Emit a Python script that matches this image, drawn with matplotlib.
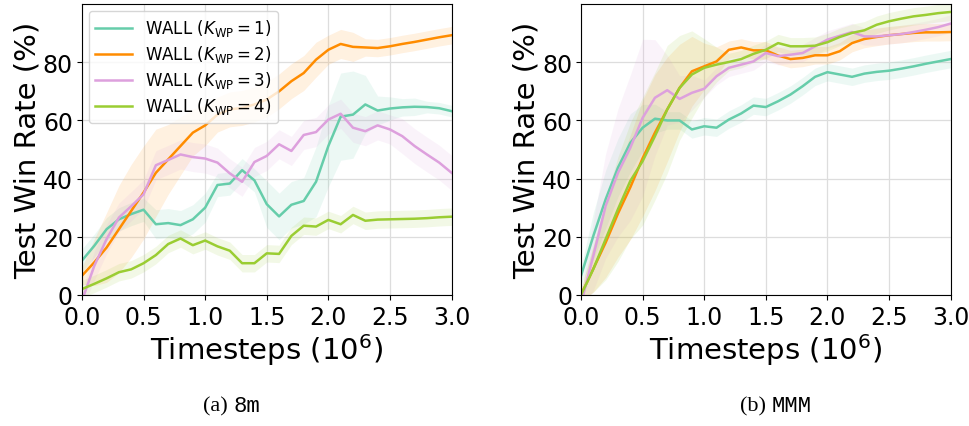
import numpy as np
import matplotlib.pyplot as plt

# -------------------------------
# Data (win rate %, mean and spread)
# -------------------------------
steps = np.round(np.arange(0, 3.01, 0.1), 1)
labels = [r"WALL ($K_{\rm WP}=1$)", r"WALL ($K_{\rm WP}=2$)",
          r"WALL ($K_{\rm WP}=3$)", r"WALL ($K_{\rm WP}=4$)"]
colors = ["mediumaquamarine", "darkorange", "plum", "yellowgreen"]

# (a) 8m
m8_k1 = [11.8, 16.9, 22.6, 26.0, 27.8, 29.3, 24.3, 24.7, 24.0, 26.0, 30.0,
         37.8, 38.3, 42.9, 39.4, 31.2, 27.0, 31.0, 32.3, 38.9, 51.2,
         61.3, 62.0, 65.5, 63.4, 64.1, 64.5, 64.7, 64.6, 64.2, 63.2]
m8_k2 = [6.6, 11.2, 16.3, 22.6, 28.9, 35.2, 42.0, 46.6, 51.2, 55.8, 58.3,
         62.0, 63.8, 64.3, 65.5, 67.2, 70.0, 73.5, 76.3, 80.9, 84.3,
         86.3, 85.3, 85.1, 84.9, 85.5, 86.3, 87.0, 87.8, 88.6, 89.3]
m8_k3 = [-2.0, 10.0, 19.2, 26.6, 30.5, 34.6, 44.6, 46.4, 48.3, 47.4, 46.9,
         45.5, 41.8, 38.9, 45.7, 47.8, 51.8, 49.5, 55.0, 56.0, 60.3,
         62.3, 57.5, 56.3, 58.3, 56.9, 54.6, 51.2, 48.3, 45.5, 42.0]
m8_k4 = [2.0, 3.8, 5.7, 7.8, 8.8, 10.9, 13.7, 17.5, 19.4, 17.1, 18.7,
         16.7, 15.2, 10.9, 10.9, 14.3, 14.1, 20.3, 23.8, 23.5, 25.8,
         24.3, 27.5, 25.5, 25.9, 26.0, 26.1, 26.2, 26.4, 26.7, 26.9]
m8_k1_sd = [4, 4, 4, 4, 4, 4, 5, 5, 5, 5, 5, 4, 4, 4, 4, 8, 8, 8, 8, 12, 14,
            15, 15, 10, 5, 4, 3, 3, 2, 2, 2]
m8_k2_sd = [3, 8, 12, 15, 16, 16, 15, 12, 10, 8, 7, 6, 6, 6, 6, 6, 6, 6, 6, 6,
            5, 5, 5, 3, 3, 3, 3, 3, 3, 3, 3]
m8_k3_sd = [3, 5, 5, 5, 5, 5, 5, 5, 5, 5, 5, 5, 5, 5, 5, 5, 5, 5, 5, 5, 5,
            5, 5, 5, 5, 5, 6, 6, 6, 6, 6]
m8_k4_sd = [3] * 31

# (b) MMM
mmm_k1 = [6.6, 20.3, 32.9, 43.8, 52.3, 57.5, 60.6, 60.0, 60.0, 56.9, 58.0,
          57.5, 60.3, 62.4, 65.1, 64.6, 66.6, 68.9, 71.8, 75.0, 76.6,
          75.8, 75.0, 76.1, 76.7, 77.1, 77.8, 78.6, 79.5, 80.3, 81.1]
mmm_k2 = [0.0, 9.0, 18.0, 28.0, 37.0, 47.0, 55.8, 63.8, 71.2, 76.9, 78.6,
          80.3, 84.3, 85.1, 84.1, 84.1, 82.3, 81.1, 81.5, 82.4, 82.4,
          83.8, 86.6, 88.0, 88.7, 89.3, 89.7, 90.1, 90.3, 90.3, 90.4]
mmm_k3 = [-3.0, 13.5, 30.6, 42.0, 50.6, 60.9, 67.8, 70.4, 67.4, 69.5, 70.9,
          75.2, 78.1, 79.2, 80.3, 83.2, 82.1, 82.6, 83.2, 85.5, 87.8,
          89.1, 90.4, 88.9, 88.9, 89.3, 89.7, 90.4, 91.2, 92.1, 93.3]
mmm_k4 = [0.0, 8.9, 19.2, 29.5, 39.2, 46.0, 54.6, 63.8, 71.2, 75.8, 78.1,
          79.2, 80.1, 81.1, 82.9, 84.3, 86.6, 85.5, 85.5, 85.7, 86.9,
          88.7, 90.1, 91.0, 92.9, 94.1, 95.0, 95.8, 96.3, 96.9, 97.3]
mmm_k1_sd = [3, 8, 10, 10, 10, 8, 5, 3, 3, 3, 3, 3, 3, 3, 3, 3, 3, 3, 3, 3, 3,
             3, 3, 3, 3, 3, 3, 3, 3, 3, 3]
mmm_k2_sd = [2, 8, 12, 15, 18, 20, 20, 18, 15, 12, 8, 5, 3, 3, 3, 3, 3, 3, 3,
             3, 3, 3, 3, 3, 3, 3, 3, 3, 3, 3, 3]
mmm_k3_sd = [3, 12, 18, 22, 25, 27, 20, 12, 8, 6, 3, 3, 3, 3, 3, 3, 3, 3, 3,
             3, 3, 3, 3, 3, 3, 3, 3, 3, 3, 3, 3]
mmm_k4_sd = [2, 8, 14, 18, 20, 22, 22, 22, 18, 15, 10, 6, 3, 3, 3, 3, 3, 3, 3,
             3, 3, 3, 3, 3, 3, 3, 3, 3, 3, 3, 3]

panels = [
    ("(a) ", "8m", [m8_k1, m8_k2, m8_k3, m8_k4],
     [m8_k1_sd, m8_k2_sd, m8_k3_sd, m8_k4_sd]),
    ("(b) ", "MMM", [mmm_k1, mmm_k2, mmm_k3, mmm_k4],
     [mmm_k1_sd, mmm_k2_sd, mmm_k3_sd, mmm_k4_sd]),
]

# -------------------------------
# Plot
# -------------------------------
fig = plt.figure(figsize=(9.7, 4.27), dpi=100)
lefts = [0.0845, 0.599]
caption_x = [0.241, 0.795]

for i, (tag, name, means, sds) in enumerate(panels):
    ax = fig.add_axes([lefts[i], 0.307, 0.381, 0.681])
    for mean, sd, lab, col in zip(means, sds, labels, colors):
        mean = np.array(mean)
        sd = np.array(sd)
        ax.fill_between(steps, mean - sd, mean + sd, color=col, alpha=0.12,
                        linewidth=0)
        ax.plot(steps, mean, color=col, linewidth=1.8, label=lab)
    ax.set_xlim(0, 3.0)
    ax.set_ylim(0, 100)
    ax.set_xticks(np.arange(0, 3.01, 0.5))
    ax.set_yticks([0, 20, 40, 60, 80])
    ax.tick_params(labelsize=17)
    ax.tick_params(axis="x", pad=4)
    ax.tick_params(axis="y", pad=3)
    ax.grid(color="#dddddd", linewidth=0.9)
    ax.set_axisbelow(True)
    ax.set_xlabel(r"Timesteps ($10^6$)", fontsize=21, labelpad=1)
    ax.set_ylabel("Test Win Rate (%)", fontsize=21, labelpad=1)
    if i == 0:
        ax.legend(loc="upper left", fontsize=12, handlelength=2.2,
                  borderaxespad=0.4, labelspacing=0.3)
    fig.text(caption_x[i], 0.047, tag, ha="right", va="center",
             family="Liberation Serif", fontsize=16)
    fig.text(caption_x[i], 0.047, name, ha="left", va="center",
             family="Liberation Mono", fontsize=16)

fig.savefig("out.png", dpi=100)
